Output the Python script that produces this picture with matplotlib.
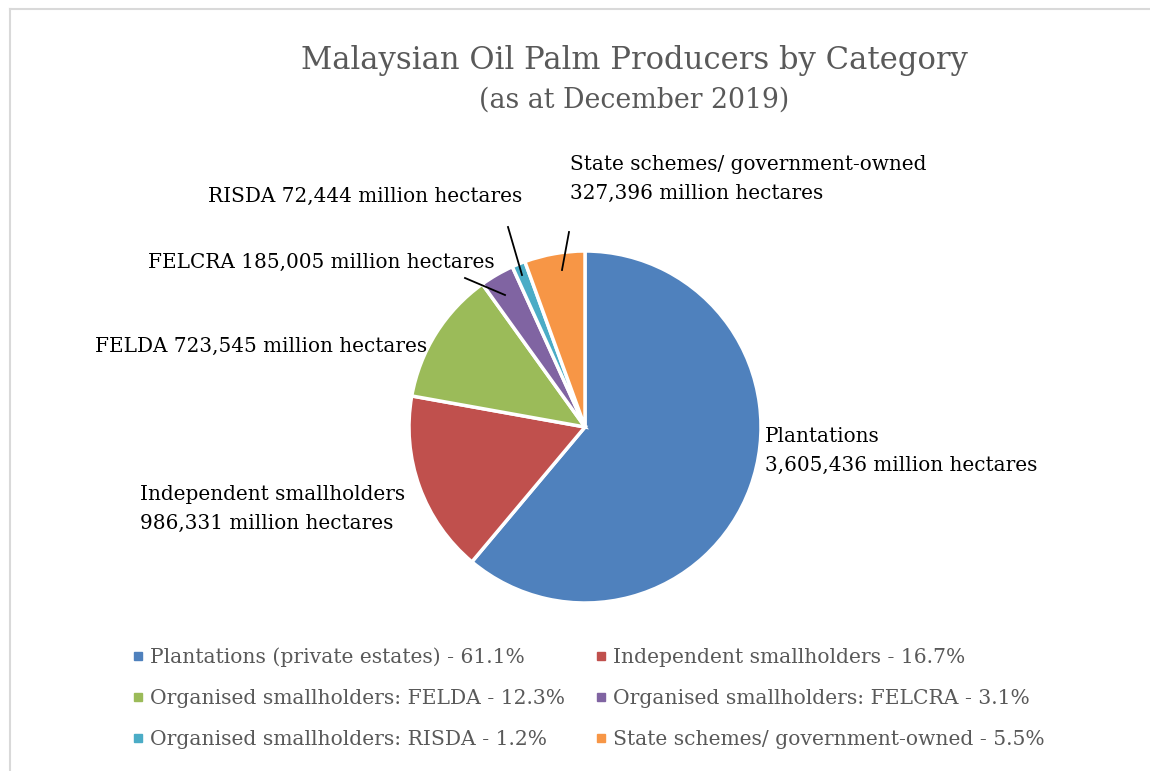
import matplotlib
matplotlib.use("Agg")
import matplotlib.pyplot as plt
from matplotlib.lines import Line2D

categories = ["Plantations (private estates)", "Independent smallholders",
              "Organised smallholders: FELDA", "Organised smallholders: FELCRA",
              "Organised smallholders: RISDA", "State schemes/ government-owned"]
hectares = [3605436, 986331, 723545, 185005, 72444, 327396]
percents = [61.1, 16.7, 12.3, 3.1, 1.2, 5.5]
label_names = ["Plantations\n", "Independent smallholders\n", "FELDA ", "FELCRA ", "RISDA ",
               "State schemes/ government-owned\n"]
colors = ["#4F81BD", "#C0504D", "#9BBB59", "#8064A2", "#4BACC6", "#F79646"]

W, H = 1150, 771
fig = plt.figure(figsize=(W / 100, H / 100), dpi=100)
plt.rcParams['font.family'] = ['DejaVu Serif']

def fx(px):
    return px / W

def fy(py):
    return 1 - py / H

# border
fig.add_artist(Line2D([fx(10), fx(10)], [fy(9), 0], color="#d9d9d9", lw=1.5))
fig.add_artist(Line2D([fx(10), 1], [fy(9), fy(9)], color="#d9d9d9", lw=1.5))

cx, cy, r = 585, 427, 176
ax = fig.add_axes([fx(cx - r), fy(cy + r), 2 * r / W, 2 * r / H])
ax.pie(hectares, colors=colors, startangle=90, counterclock=False,
       wedgeprops=dict(edgecolor="white", linewidth=2.5), radius=1)
ax.set_xlim(-1, 1)
ax.set_ylim(-1, 1)
ax.set_aspect("auto")
ax.axis("off")

# titles
fig.text(fx(634), fy(60), "Malaysian Oil Palm Producers by Category", ha="center", va="center",
         fontsize=22.1, color="#595959")
fig.text(fx(634), fy(100), "(as at December 2019)", ha="center", va="center",
         fontsize=19.3, color="#595959")

# data labels
label_pos = [(765, 451), (140, 509), (95, 346), (148, 262), (208, 196), (570, 179)]
fs = 14.4
for name, val, (px, py) in zip(label_names, hectares, label_pos):
    fig.text(fx(px), fy(py), f"{name}{val:,} million hectares", ha="left", va="center",
             fontsize=fs, color="black", linespacing=1.65)

# leader lines
leaders = [((465, 278), (505, 295)), ((508, 227), (522, 275)), ((569, 232), (562, 270))]
for (x0, y0), (x1, y1) in leaders:
    fig.add_artist(Line2D([fx(x0), fx(x1)], [fy(y0), fy(y1)], color="black", lw=1.3))

# legend
handles = [Line2D([], [], marker="s", linestyle="none", markersize=6, color=c) for c in colors]
labels = [f"{c} - {p}%" for c, p in zip(categories, percents)]
order = [0, 2, 4, 1, 3, 5]
fig.legend([handles[i] for i in order], [labels[i] for i in order], ncol=2,
           loc="upper left", bbox_to_anchor=(fx(132), fy(647)), frameon=False,
           fontsize=14.55, labelcolor="#595959", handlelength=0.6, handletextpad=0.3,
           columnspacing=1.45, labelspacing=1.1, borderpad=0, borderaxespad=0)

fig.savefig("out.png", dpi=100)
